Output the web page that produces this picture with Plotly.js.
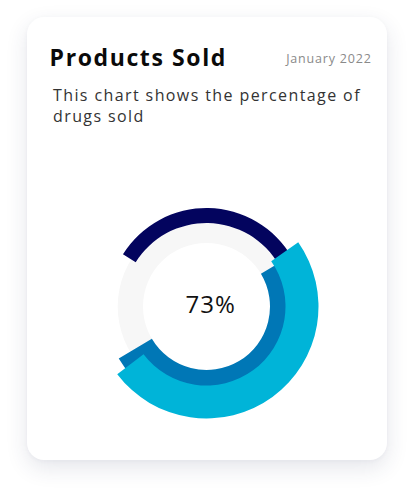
<!DOCTYPE html>
<html>
<head>
<meta charset="utf-8">
<script src="https://cdn.plot.ly/plotly-3.0.1.min.js"></script>
<style>
  html, body { margin: 0; padding: 0; background: #ffffff; }
  body { width: 414px; height: 498px; position: relative; overflow: hidden; }
  #card {
    position: absolute; left: 27px; top: 17px; width: 360px; height: 443px;
    background: #ffffff; border-radius: 17px;
    box-shadow: 0 8px 22px rgba(40, 50, 90, 0.12), 0 1px 4px rgba(40, 50, 90, 0.04);
  }
  #chart { position: absolute; left: 0; top: 0; width: 414px; height: 498px; }
  /* the card uses a wide geometric face; widen Open Sans to the same run length */
  #chart .annotation[data-index="0"] text { letter-spacing: 1.6px; }
  #chart .annotation[data-index="1"] text { letter-spacing: 0.8px; }
  #chart .annotation[data-index="2"] text { letter-spacing: 1.4px; }
  #chart .annotation[data-index="3"] text { letter-spacing: 1px; }
</style>
</head>
<body>
<div id="card"></div>
<div id="chart"></div>
<script>
// ring series: share of the full circle, drawn clockwise from a start angle (deg, 0 = east)
const series = ['Track', 'Category A', 'Category B', 'Category C'];
const sharePct = [100, 32.8, 50.1, 49.4];
const startDeg = [0, 148, 31, 35];
const centerLabel = '73%';

// ring geometry (radial units = px) and colours
const ringBase = [63.5, 83.5, 63.5, 79];
const ringWidth = [25.3, 15, 38.5, 33];
const ringColor = ['#f7f7f7', '#03045e', '#0077b6', '#00b4d8'];

const W = 414, H = 498;
const cx = 206.5, cy = 306.5, R = 115;
const font = '"Open Sans", "Noto Sans", sans-serif';

const traces = series.map((name, i) => {
  const sweep = sharePct[i] * 3.6;
  return {
    type: 'barpolar',
    name,
    r: [ringWidth[i]],
    base: [ringBase[i]],
    theta: [startDeg[i] - sweep / 2],
    width: [sweep],
    marker: { color: ringColor[i], line: { width: 0 } },
    hovertemplate: name + ': ' + sharePct[i] + '%<extra></extra>',
    showlegend: false
  };
});

const layout = {
  width: W, height: H,
  margin: { l: 0, r: 0, t: 0, b: 0 },
  paper_bgcolor: 'rgba(0,0,0,0)',
  plot_bgcolor: 'rgba(0,0,0,0)',
  font: { family: font, color: '#111' },
  showlegend: false,
  polar: {
    domain: { x: [(cx - R) / W, (cx + R) / W], y: [(H - cy - R) / H, (H - cy + R) / H] },
    bgcolor: 'rgba(0,0,0,0)',
    barmode: 'overlay',
    hole: 0,
    radialaxis: { visible: false, range: [0, R] },
    angularaxis: { visible: false, direction: 'counterclockwise', rotation: 0 }
  },
  annotations: [
    { text: '<b>Products Sold</b>', x: 58 / W, y: 1 - 57 / H, xref: 'paper', yref: 'paper',
      xanchor: 'left', yanchor: 'middle', showarrow: false,
      font: { family: font, size: 23, color: '#0a0a0a' } },
    { text: 'January 2022', x: 369 / W, y: 1 - 58 / H, xref: 'paper', yref: 'paper',
      xanchor: 'right', yanchor: 'middle', showarrow: false,
      font: { family: font, size: 12.5, color: '#8a8a8a' } },
    { text: 'This chart shows the percentage of<br>drugs sold', x: 51 / W, y: 1 - 106 / H,
      xref: 'paper', yref: 'paper', xanchor: 'left', yanchor: 'middle', align: 'left',
      showarrow: false, font: { family: font, size: 16, color: '#333333' } },
    { text: centerLabel, x: 210 / W, y: 1 - 303 / H, xref: 'paper', yref: 'paper',
      xanchor: 'center', yanchor: 'middle', showarrow: false,
      font: { family: font, size: 24, color: '#111111' } }
  ]
};

Plotly.newPlot('chart', traces, layout, { displayModeBar: false });
</script>
</body>
</html>
